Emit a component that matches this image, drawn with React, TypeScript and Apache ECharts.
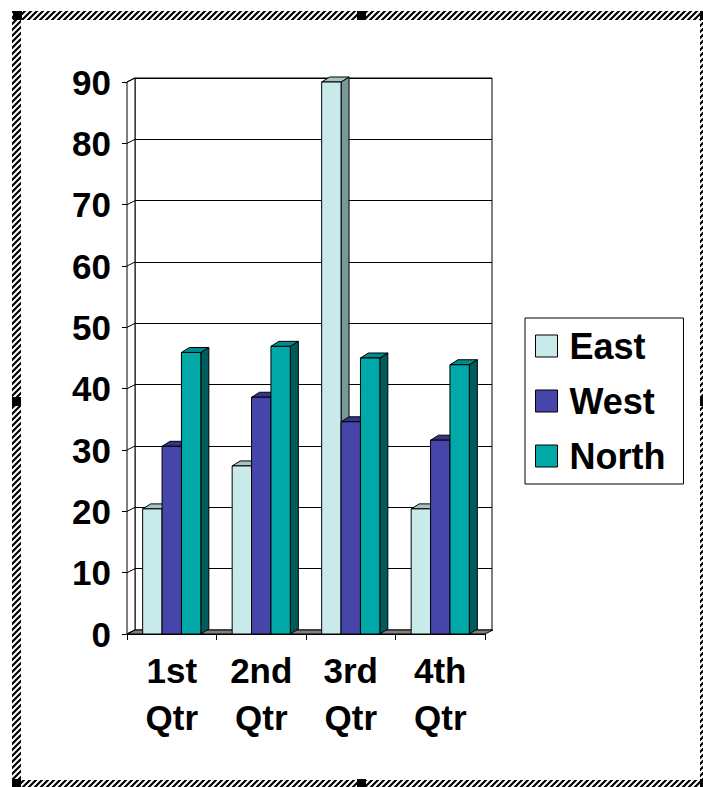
import React, { useEffect, useRef } from 'react';
import * as echarts from 'echarts';

const categories = ['1st\nQtr', '2nd\nQtr', '3rd\nQtr', '4th\nQtr'];
const seriesNames = ['East', 'West', 'North'];
const eastValues = [20.4, 27.4, 90, 20.4];
const westValues = [30.6, 38.6, 34.6, 31.6];
const northValues = [45.9, 46.9, 45, 43.9];
const yTickValues = [0, 10, 20, 30, 40, 50, 60, 70, 80, 90];

const frontColors = ['#C9EAEA', '#4646AA', '#00A8A8'];
const topColors = ['#A6C2C2', '#35358C', '#008C8C'];
const sideColors = ['#7A9898', '#232360', '#005C5C'];

const FONT = "'Liberation Sans', Arial, sans-serif";
const BAR_DX = 8;
const BAR_DY = -5;
const WALL_DX = 8;
const WALL_DY = -4;

export default function App() {
  const ref = useRef<HTMLDivElement>(null);

  useEffect(() => {
    if (!ref.current) return;
    const chart = echarts.init(ref.current, null, { renderer: 'svg' });

    const c = document.createElement('canvas');
    c.width = 6;
    c.height = 6;
    const g = c.getContext('2d');
    if (g) {
      g.fillStyle = '#fff';
      g.fillRect(0, 0, 6, 6);
      g.strokeStyle = '#000';
      g.lineWidth = 2.2;
      g.beginPath();
      g.moveTo(-1, 7); g.lineTo(7, -1);
      g.moveTo(-1, 1); g.lineTo(1, -1);
      g.moveTo(5, 7); g.lineTo(7, 5);
      g.stroke();
    }
    const hatch: any = { image: c, repeat: 'repeat', imageWidth: 6, imageHeight: 6 };

    const valueLists = [eastValues, westValues, northValues];

    const barRender = (si: number) => (params: any, api: any) => {
      const idx = api.value(0);
      const val = api.value(1);
      const top = api.coord([idx, val]);
      const base = api.coord([idx, 0]);
      const band = api.size([1, 0])[0];
      const bw = (band * 0.65) / 3;
      const x0 = top[0] - 1.5 * bw + si * bw;
      const x1 = x0 + bw;
      const yt = top[1];
      const yb = base[1];
      const stroke = { stroke: '#000', lineWidth: 1 };
      return {
        type: 'group',
        children: [
          {
            type: 'polygon',
            shape: { points: [[x1, yb], [x1 + BAR_DX, yb + BAR_DY], [x1 + BAR_DX, yt + BAR_DY], [x1, yt]] },
            style: { fill: sideColors[si], ...stroke },
          },
          {
            type: 'polygon',
            shape: { points: [[x0, yt], [x0 + BAR_DX, yt + BAR_DY], [x1 + BAR_DX, yt + BAR_DY], [x1, yt]] },
            style: { fill: topColors[si], ...stroke },
          },
          {
            type: 'rect',
            shape: { x: x0, y: yt, width: bw, height: yb - yt },
            style: { fill: frontColors[si], ...stroke },
          },
        ],
      };
    };

    const wallRender = (params: any, api: any) => {
      const cs = params.coordSys;
      const v = api.value(1);
      const yf = api.coord([0, v])[1];
      const children: any[] = [];
      if (params.dataIndex === 0) {
        const bottom = cs.y + cs.height;
        children.push({
          type: 'polygon',
          shape: { points: [[cs.x, bottom], [cs.x, cs.y], [cs.x + WALL_DX, cs.y + WALL_DY], [cs.x + WALL_DX, bottom + WALL_DY]] },
          style: { fill: '#fff', stroke: '#000', lineWidth: 1 },
        });
        children.push({
          type: 'polygon',
          shape: { points: [[cs.x, bottom], [cs.x + cs.width, bottom], [cs.x + cs.width + WALL_DX, bottom + WALL_DY], [cs.x + WALL_DX, bottom + WALL_DY]] },
          style: { fill: '#808080', stroke: '#000', lineWidth: 1 },
        });
      }
      children.push({
        type: 'line',
        shape: { x1: cs.x, y1: yf, x2: cs.x + WALL_DX, y2: yf + WALL_DY },
        style: { stroke: '#000', lineWidth: 1 },
      });
      return { type: 'group', children };
    };

    const series: any[] = [
      {
        type: 'custom',
        name: 'walls',
        xAxisIndex: 0,
        yAxisIndex: 0,
        z: 1,
        silent: true,
        renderItem: wallRender,
        data: yTickValues.map((v) => [0, v]),
        encode: { x: 0, y: 1 },
      },
    ];
    seriesNames.forEach((name, si) => {
      series.push({
        type: 'custom',
        name,
        xAxisIndex: 0,
        yAxisIndex: 0,
        z: 3,
        itemStyle: { color: frontColors[si], borderColor: '#000', borderWidth: 1 },
        renderItem: barRender(si),
        data: valueLists[si].map((v, i) => [i, v]),
        encode: { x: 0, y: 1 },
      });
    });

    const handles = [
      [13, 11], [357, 11], [700, 11],
      [12, 397], [700, 397],
      [12, 779], [357, 779], [700, 779],
    ];

    chart.setOption({
      animation: false,
      backgroundColor: '#fff',
      grid: [
        { left: 127, top: 82, width: 358, height: 552, show: false },
        { left: 135, top: 78, width: 357, height: 552, show: true, backgroundColor: '#fff', borderColor: '#000', borderWidth: 1 },
      ],
      xAxis: [
        {
          type: 'category',
          gridIndex: 0,
          data: categories,
          axisLine: { show: true, lineStyle: { color: '#000', width: 1 } },
          axisTick: { show: true, length: 6, lineStyle: { color: '#000' } },
          axisLabel: {
            margin: 13,
            fontSize: 35,
            fontWeight: 'bold',
            fontFamily: FONT,
            color: '#000',
            lineHeight: 47,
          },
          splitLine: { show: false },
        },
        {
          type: 'category',
          gridIndex: 1,
          data: categories,
          show: false,
        },
      ],
      yAxis: [
        {
          type: 'value',
          gridIndex: 0,
          min: 0,
          max: 90,
          interval: 10,
          axisLine: { show: true, lineStyle: { color: '#000', width: 1 } },
          axisTick: { show: true, length: 5, lineStyle: { color: '#000' } },
          axisLabel: {
            margin: 16,
            fontSize: 35,
            fontWeight: 'bold',
            fontFamily: FONT,
            color: '#000',
          },
          splitLine: { show: false },
        },
        {
          type: 'value',
          gridIndex: 1,
          min: 0,
          max: 90,
          interval: 10,
          axisLine: { show: false },
          axisTick: { show: false },
          axisLabel: { show: false },
          splitLine: { show: true, lineStyle: { color: '#000', width: 1 } },
        },
      ],
      legend: {
        orient: 'vertical',
        left: 525,
        top: 318,
        data: seriesNames,
        icon: 'rect',
        itemWidth: 22,
        itemHeight: 22,
        itemGap: 19,
        padding: [10, 18, 10, 10],
        backgroundColor: '#fff',
        borderColor: '#000',
        borderWidth: 1,
        selectedMode: false,
        itemStyle: { borderColor: '#000', borderWidth: 1 },
        textStyle: {
          fontSize: 36,
          fontWeight: 'bold',
          fontFamily: FONT,
          color: '#000',
          padding: [0, 0, 0, 7],
        },
      },
      graphic: [
        { type: 'rect', shape: { x: 12, y: 11, width: 697, height: 9 }, style: { fill: hatch }, silent: true, z: 10 },
        { type: 'rect', shape: { x: 12, y: 11, width: 9, height: 778 }, style: { fill: hatch }, silent: true, z: 10 },
        { type: 'rect', shape: { x: 700, y: 11, width: 9, height: 778 }, style: { fill: hatch }, silent: true, z: 10 },
        { type: 'rect', shape: { x: 12, y: 780, width: 697, height: 9 }, style: { fill: hatch }, silent: true, z: 10 },
        ...handles.map(([x, y]) => ({
          type: 'rect',
          shape: { x, y, width: 9, height: 9 },
          style: { fill: '#000' },
          silent: true,
          z: 11,
        })),
      ],
      series,
    });

    return () => {
      chart.dispose();
    };
  }, []);

  return (
    <div
      ref={ref}
      style={{ position: 'absolute', left: 0, top: 0, width: 703, height: 787 }}
    />
  );
}
